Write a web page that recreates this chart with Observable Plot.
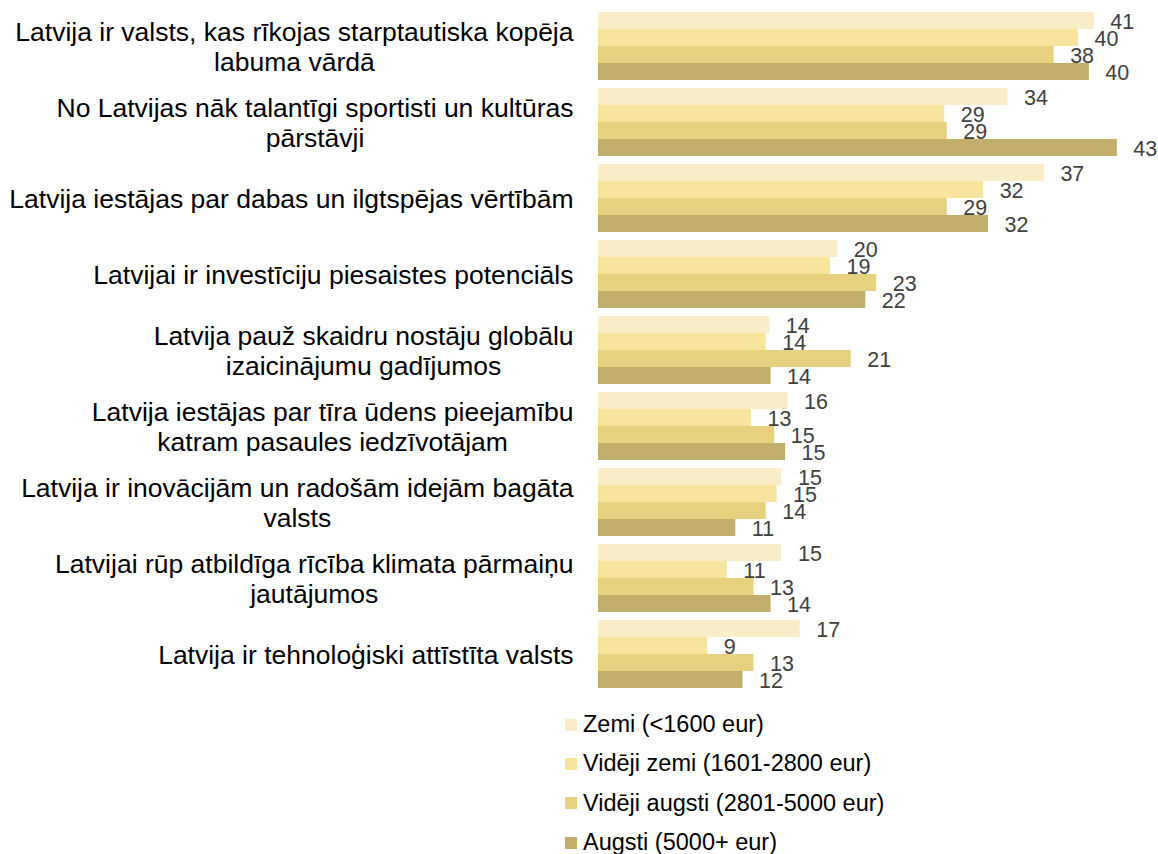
<!DOCTYPE html>
<html>
<head>
<meta charset="utf-8">
<script src="https://cdn.jsdelivr.net/npm/d3@7"></script>
<script src="https://cdn.jsdelivr.net/npm/@observablehq/plot@0.6"></script>
<style>
  html, body { margin: 0; padding: 0; background: #fff; }
  body { width: 1158px; height: 854px; overflow: hidden; font-family: "Liberation Sans", Arial, sans-serif; }
  #legend { margin-left: 565px; padding-top: 5px; }
  .row { display: flex; align-items: center; height: 39.3px; font-size: 23.5px; color: #000; }
  .sw { width: 12px; height: 12px; margin-right: 6px; flex: none; }
</style>
</head>
<body>
<div id="chart"></div>
<div id="legend"></div>
<script>
const categories = [
  "Latvija ir valsts, kas rīkojas starptautiska kopēja\nlabuma vārdā",
  "No Latvijas nāk talantīgi sportisti un kultūras\npārstāvji",
  "Latvija iestājas par dabas un ilgtspējas vērtībām",
  "Latvijai ir investīciju piesaistes potenciāls",
  "Latvija pauž skaidru nostāju globālu\nizaicinājumu gadījumos",
  "Latvija iestājas par tīra ūdens pieejamību\nkatram pasaules iedzīvotājam",
  "Latvija ir inovācijām un radošām idejām bagāta\nvalsts",
  "Latvijai rūp atbildīga rīcība klimata pārmaiņu\njautājumos",
  "Latvija ir tehnoloģiski attīstīta valsts"
];
const series = [
  "Zemi (<1600 eur)",
  "Vidēji zemi (1601-2800 eur)",
  "Vidēji augsti (2801-5000 eur)",
  "Augsti (5000+ eur)"
];
const zemi         = [40.8, 33.7, 36.7, 19.7, 14.1, 15.6, 15.1, 15.1, 16.6];
const videjiZemi   = [39.5, 28.5, 31.7, 19.1, 13.8, 12.6, 14.7, 10.6, 9.0];
const videjiAugsti = [37.5, 28.7, 28.7, 22.9, 20.8, 14.5, 13.8, 12.8, 12.8];
const augsti       = [40.4, 42.7, 32.1, 22.0, 14.2, 15.4, 11.3, 14.2, 11.9];
const colors = ["#F9EEC8", "#F7E49D", "#E8D17E", "#C2AE6A"];

const seriesValues = [zemi, videjiZemi, videjiAugsti, augsti];
const rows = [];
categories.forEach((c, i) => {
  series.forEach((s, j) => rows.push({category: c, series: s, value: seriesValues[j][i]}));
});

const FONT = '"Liberation Sans", Arial, sans-serif';
const catSize = 26.5;
const ctx = document.createElement("canvas").getContext("2d");
ctx.font = `${catSize}px "Liberation Sans"`;
const rightEdge = -25; // offset from plot left edge

const catMarks = categories.map(c => {
  const lines = c.split("\n");
  const w = ctx.measureText(lines[0]).width;
  return Plot.text([c], {
    fy: d => d,
    text: d => d,
    frameAnchor: "left",
    textAnchor: lines.length > 1 ? "middle" : "end",
    dx: lines.length > 1 ? rightEdge - w / 2 : rightEdge,
    fontSize: catSize,
    lineHeight: 30 / catSize,
    fill: "#000"
  });
});

const chart = Plot.plot({
  width: 1158,
  height: 700,
  marginLeft: 598,
  marginRight: 25.4,
  marginTop: 12,
  marginBottom: 12,
  style: {fontFamily: FONT, background: "white", overflow: "visible"},
  x: {domain: [0, 44], axis: null},
  y: {domain: series, axis: null, padding: 0},
  fy: {domain: categories, axis: null, paddingInner: 0.11, paddingOuter: 0},
  color: {domain: series, range: colors},
  marks: [
    Plot.barX(rows, {x: "value", y: "series", fy: "category", fill: "series"}),
    Plot.text(rows, {
      x: "value", y: "series", fy: "category",
      text: d => String(Math.round(d.value)),
      textAnchor: "start", dx: 16, dy: 1,
      fill: "#404040", fontSize: 21.5
    }),
    ...catMarks
  ]
});
document.getElementById("chart").appendChild(chart);

const legend = document.getElementById("legend");
series.forEach((s, j) => {
  const row = document.createElement("div");
  row.className = "row";
  const sw = document.createElement("span");
  sw.className = "sw";
  sw.style.background = colors[j];
  const t = document.createElement("span");
  t.textContent = s;
  row.appendChild(sw);
  row.appendChild(t);
  legend.appendChild(row);
});
</script>
</body>
</html>
